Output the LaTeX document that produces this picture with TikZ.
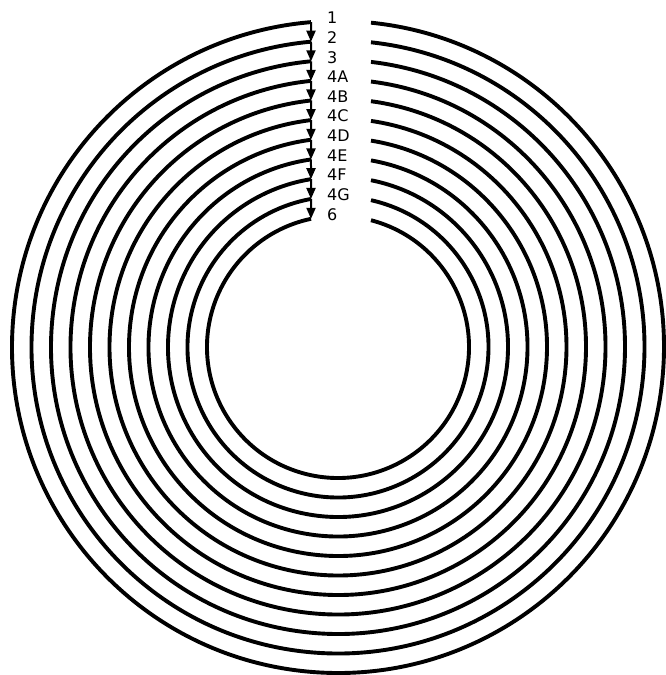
\documentclass[tikz,border=0pt]{standalone}
\usepackage{fontspec}
\setsansfont{DejaVu Sans}
\usetikzlibrary{arrows.meta}

\tikzset{
  ring/.style={line width=3.9pt},
  feed/.style={line width=2pt,-{Triangle[length=11pt,width=9pt]}},
  tag/.style={anchor=west,inner sep=0pt,font=\sffamily\fontsize{16}{17}\selectfont},
}

\begin{document}
\begin{tikzpicture}[x=1pt,y=1pt]
        \useasboundingbox (-338,-328) rectangle (327,347);
        % rings, from the outside in
        \foreach \lab [count=\i] in {1,2,3,4A,4B,4C,4D,4E,4F,4G,6} {
            \pgfmathsetmacro{\rad}{326-19.5*(\i-1)}
            \pgfmathsetmacro{\angL}{90+asin(27/\rad)}
            \pgfmathsetmacro{\angR}{90-asin(33/\rad)}
            \draw[ring] (\angR:\rad) arc[start angle=\angR, end angle=\angL-360, radius=\rad];
            \coordinate (l\i) at (\angL:\rad);
            \node[tag] (t\i) at ([xshift=16pt,yshift=4pt]l\i) {\lab};
        }
        % feed from one ring to the next
        \foreach \i in {1,...,10} {
            \pgfmathtruncatemacro{\j}{\i+1}
            \draw[feed] (l\i) -- (l\j);
        }
    \end{tikzpicture}
\end{document}
